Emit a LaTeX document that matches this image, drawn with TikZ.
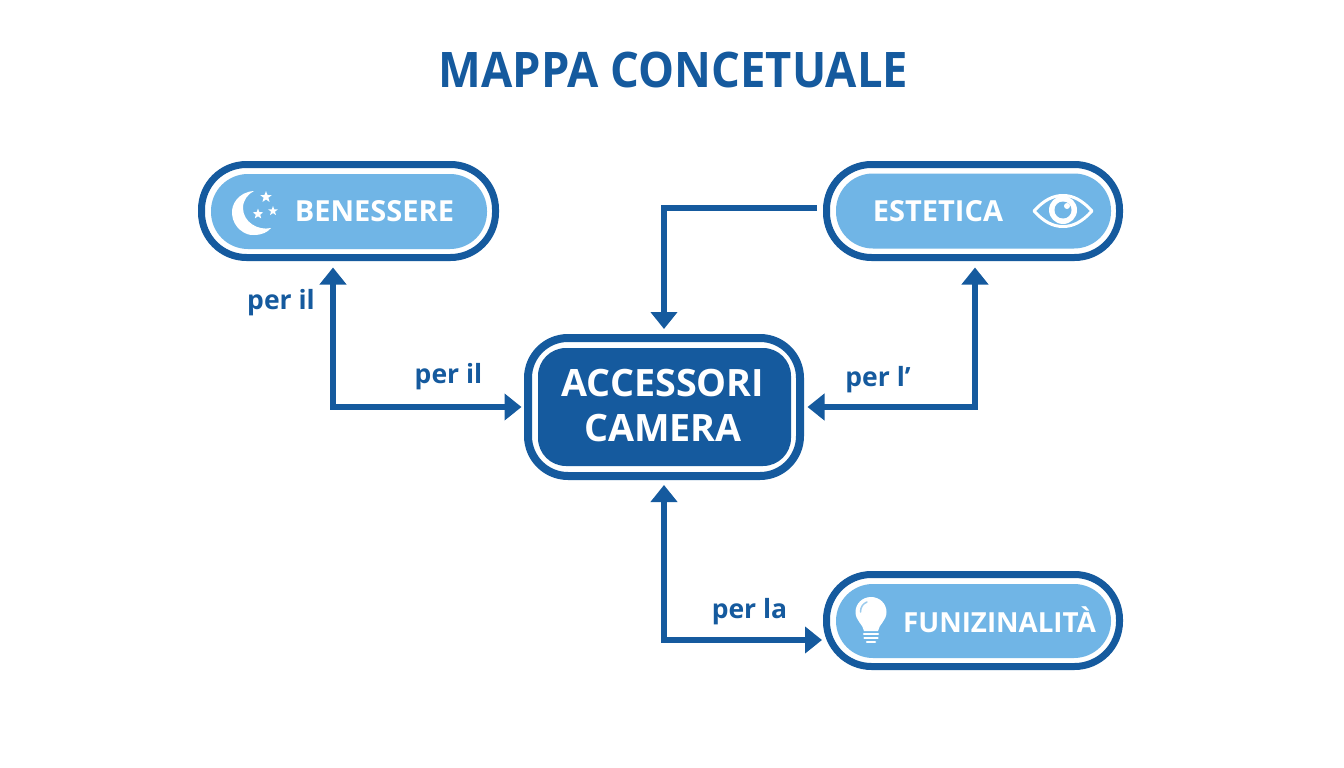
\documentclass[tikz,border=0pt]{standalone}
\usepackage{fontspec}
\setmainfont{Open Sans}
\usetikzlibrary{arrows.meta,shapes.geometric}
\definecolor{dk}{HTML}{155A9E}
\definecolor{lt}{HTML}{70B5E6}
\tikzset{
  x=1pt,y=-1pt,
  outerbox/.style={draw=dk,line width=7pt,fill=white,rounded corners=45pt,inner sep=0pt,anchor=center},
  innerbox/.style={fill=lt,rounded corners=37pt,inner sep=0pt,anchor=center},
  lbl/.style={text=white,font=\bfseries\fontsize{29}{32}\selectfont,inner sep=0pt,anchor=center},
  edgelbl/.style={text=dk,font=\bfseries\fontsize{26.5}{30}\selectfont,inner sep=0pt,anchor=center},
  conn/.style={draw=dk,line width=6pt,miter limit=10},
  tip/.style={-{Triangle[length=17pt,width=26pt]}},
  tips/.style={{Triangle[length=17pt,width=26pt]}-{Triangle[length=17pt,width=26pt]}},
  starnode/.style={star,star points=5,star point ratio=2.4,fill=white,inner sep=0pt}
}
\begin{document}
\begin{tikzpicture}
\useasboundingbox (0,0) rectangle (1344,768);
\fill[white] (0,0) rectangle (1344,768);
\node[text=dk,font=\bfseries\fontsize{49}{54}\selectfont,inner sep=0pt] (title) at (673.5,70) {\scalebox{.925}[1]{MAPPA CONCETUALE}};

% boxes
\node[outerbox,minimum width=294pt,minimum height=93pt] (ben) at (348.5,211) {};
\node[innerbox,minimum width=276pt,minimum height=75pt] (benin) at (349,211.5) {};
\node[outerbox,minimum width=293pt,minimum height=93pt] (est) at (973,211) {};
\node[innerbox,minimum width=275pt,minimum height=75pt] (estin) at (973.5,211) {};
\node[outerbox,minimum width=293pt,minimum height=92pt] (fun) at (973,620.5) {};
\node[innerbox,minimum width=275pt,minimum height=74pt] (funin) at (973.5,621) {};
\node[outerbox,rounded corners=40pt,line width=8pt,minimum width=272pt,minimum height=138pt] (cen) at (664,407) {};
\node[fill=dk,rounded corners=28pt,inner sep=0pt,minimum width=253pt,minimum height=118pt] (cenin) at (664.5,407) {};

% box texts
\node[lbl] (bent) at (374.5,211) {BENESSERE};
\node[lbl] (estt) at (938,211) {ESTETICA};
\node[lbl,font=\bfseries\fontsize{27.7}{32}\selectfont] (funt) at (999.5,620) {FUNIZINALITÀ};
\node[lbl,font=\bfseries\fontsize{37.7}{45}\selectfont,align=center] (cent) at (663,405.5) {ACCESSORI\\CAMERA};

% connectors
\draw[conn,tips] ([xshift=-15.5pt,yshift=-6.5pt]ben.south) |- ([xshift=-2.5pt]cen.west);
\draw[conn,tips] ([xshift=2pt,yshift=-6.5pt]est.south) |- ([xshift=3.5pt]cen.east);
\draw[conn,tip] ([xshift=-6pt,yshift=3pt]est.west) -| ([yshift=5pt]cen.north);
\draw[conn,tips] ([yshift=-5pt]cen.south) |- ([yshift=-19.5pt,xshift=-1pt]fun.west);

% edge labels
\node[edgelbl] (l1) at (281,303) {per il};
\node[edgelbl] (l2) at (448.5,377) {per il};
\node[edgelbl] (l3) at (878,379.5) {per l’};
\node[edgelbl] (l4) at (749.5,612) {per la};

% moon
\fill[white] (254,191) .. controls (238,192) and (231,205) .. (232,214) .. controls (233,228) and (246,236) .. (254,235) .. controls (262,235) and (268,232) .. (271,228) .. controls (258,231) and (243,222) .. (243,208) .. controls (243,200) and (248,194) .. (254,191) -- cycle;
\node[starnode,minimum size=12pt] (s1) at (266,197) {};
\node[starnode,minimum size=11pt] (s2) at (258,214) {};
\node[starnode,minimum size=10pt] (s3) at (273,211) {};

% eye
\draw[white,line width=3pt,line join=round] (1034,211) .. controls (1044,200) and (1053,195.5) .. (1063,195.5) .. controls (1073,195.5) and (1082,200) .. (1092,211) .. controls (1082,222) and (1073,226.5) .. (1063,226.5) .. controls (1053,226.5) and (1044,222) .. (1034,211) -- cycle;
\fill[white] (1063,210) circle (14);
\fill[lt] (1063,210) circle (8.5);
\fill[white] (1067,206) circle (3);

% bulb
\fill[white] (871,597) .. controls (862,597) and (855.5,604) .. (855.5,612) .. controls (855.5,621) and (863,624) .. (864,631) -- (878,631) .. controls (879,624) and (886.5,621) .. (886.5,612) .. controls (886.5,604) and (880,597) .. (871,597) -- cycle;
\draw[lt!70!white,line width=1.5pt,line cap=round] (860.5,612) .. controls (860.5,607) and (863,603.5) .. (867,602);
\draw[white,line width=2.5pt,line cap=round] (864,634) -- (878,634);
\draw[white,line width=2.5pt,line cap=round] (864.5,638) -- (877.5,638);
\draw[white,line width=2.5pt,line cap=round] (867,642) -- (875,642);
\end{tikzpicture}
\end{document}
